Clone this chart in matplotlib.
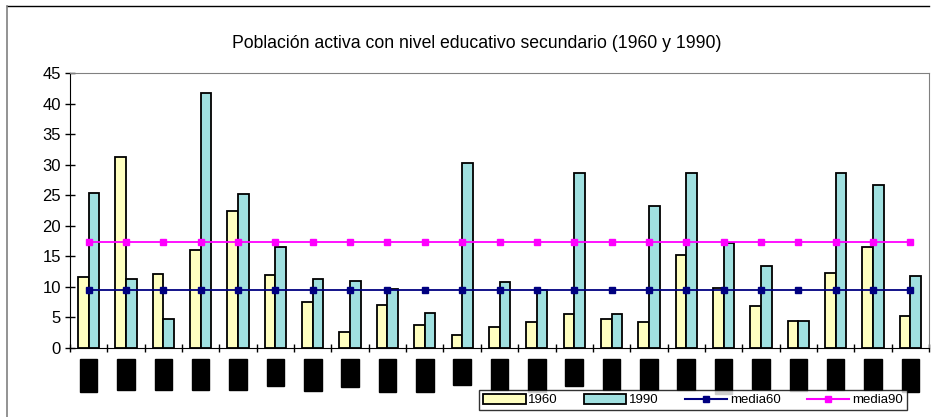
import numpy as np
from matplotlib import pyplot as plt
from matplotlib.lines import Line2D

plt.rcParams['font.family'] = ['Liberation Sans', 'DejaVu Sans']

# categories (labels appear blacked out in the reference)
paises = ['ARG', 'BOL', 'BRA', 'CHL', 'COL', 'CRI', 'ECU', 'SLV', 'GTM', 'HND', 'HTI', 'JAM',
          'MEX', 'NIC', 'PAN', 'PRY', 'PER', 'DOM', 'TTO', 'URY', 'VEN', 'BRB', 'GUY']
v1960 = [11.6, 31.2, 12.1, 16.1, 22.5, 11.9, 7.6, 2.6, 7.1, 3.7, 2.1, 3.4,
         4.2, 5.6, 4.7, 4.2, 15.3, 9.8, 6.8, 4.5, 12.3, 16.6, 5.2]
v1990 = [25.4, 11.3, 4.7, 41.8, 25.2, 16.6, 11.3, 11.0, 9.6, 5.8, 30.2, 10.8,
         9.5, 28.6, 5.5, 23.3, 28.6, 17.2, 13.5, 4.5, 28.6, 26.7, 11.8]
media60 = 9.5
media90 = 17.4

x = np.arange(len(paises))
w = 0.285

fig = plt.figure(figsize=(9.33, 4.17), dpi=100)
ax = fig.add_axes([70/933, 1-348/417, 859/933, 275/417])

ax.bar(x - w/2, v1960, w, color='#FFFFC0', edgecolor='black', linewidth=1.3, zorder=2)
ax.bar(x + w/2, v1990, w, color='#A0E0E0', edgecolor='black', linewidth=1.3, zorder=2)
ax.plot(x, [media60]*len(x), color='#000080', marker='s', markersize=4.5, linewidth=1.3, zorder=3)
ax.plot(x, [media90]*len(x), color='#FF00FF', marker='s', markersize=4.5, linewidth=1.3, zorder=3)

ax.set_xlim(-0.5, len(x) - 0.5)
ax.set_ylim(0, 45)
ax.set_yticks(np.arange(0, 46, 5))
ax.tick_params(axis='y', direction='inout', length=7, width=1, labelsize=12, pad=3)
ax.set_xticks(np.arange(-0.5, len(x), 1), minor=True)
ax.set_xticks(x)
ax.set_xticklabels(paises, rotation=90, fontsize=9, color='black', va='top',
                   bbox=dict(facecolor='black', edgecolor='black', pad=2))
ax.tick_params(axis='x', which='major', length=0, pad=10)
ax.tick_params(axis='x', which='minor', direction='inout', length=6, width=1)
for s in ['top', 'right']:
    ax.spines[s].set_color('#808080')
for s in ['left', 'bottom']:
    ax.spines[s].set_color('black')

fig.text(477/933, 1-44/417, 'Población activa con nivel educativo secundario (1960 y 1990)',
         ha='center', va='center', fontsize=12.7)

# outer chart frame
fig.add_artist(Line2D([7/933, 929/933], [1-6/417, 1-6/417], color='black', linewidth=1))
fig.add_artist(Line2D([7/933, 7/933], [0, 1-6/417], color='#808080', linewidth=1.2))

handles = [plt.Rectangle((0, 0), 1, 1, facecolor='#FFFFC0', edgecolor='black', linewidth=1.3),
           plt.Rectangle((0, 0), 1, 1, facecolor='#A0E0E0', edgecolor='black', linewidth=1.3),
           Line2D([], [], color='#000080', marker='s', markersize=4.5),
           Line2D([], [], color='#FF00FF', marker='s', markersize=4.5)]
leg = fig.legend(handles, ['1960', '1990', 'media60', 'media90'], ncol=4,
                 loc='center', bbox_to_anchor=(693/933, 1-400/417), fontsize=9.5,
                 frameon=True, fancybox=False, handlelength=3.2, handleheight=0.8,
                 handletextpad=0.2, columnspacing=2.0, borderpad=0.3, borderaxespad=0)
leg.get_frame().set_edgecolor('black')
leg.get_frame().set_linewidth(1)

plt.savefig('out.png', dpi=100)
